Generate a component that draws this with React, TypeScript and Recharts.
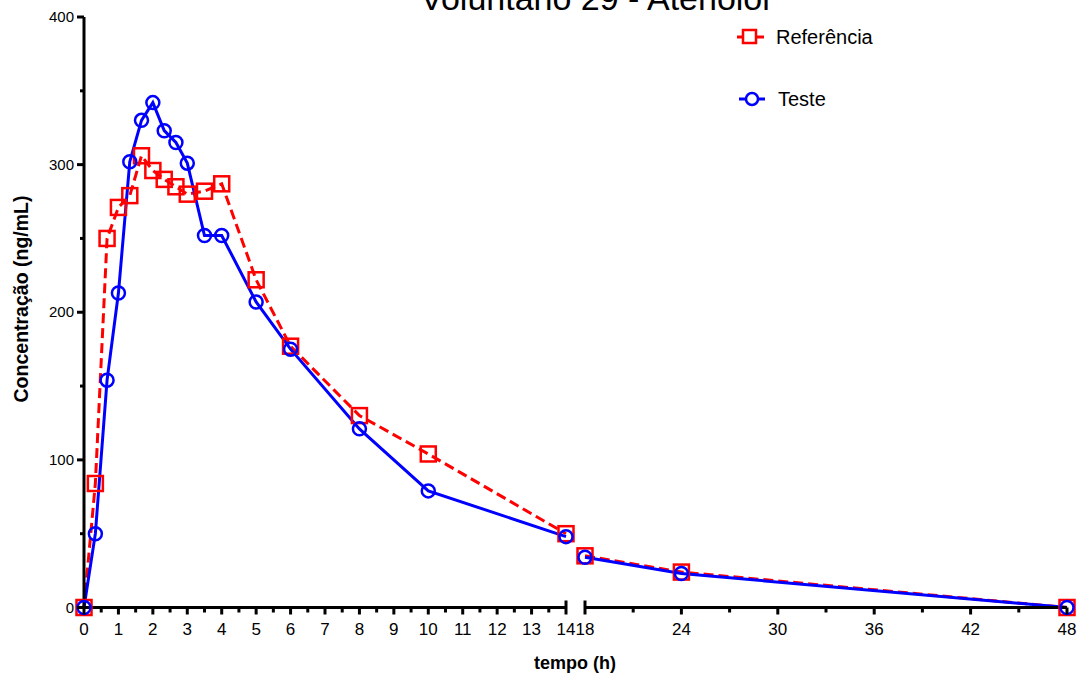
import React from "react";
import { LineChart, Line, XAxis, YAxis, Legend } from "recharts";

// sampling times (h) and concentrations (ng/mL)
const times = [0, 0.33, 0.67, 1, 1.33, 1.67, 2, 2.33, 2.67, 3, 3.5, 4, 5, 6, 8, 10, 14, 18, 24, 48];
const referencia = [0, 84, 250, 271, 279, 306, 296, 290, 285, 280, 282, 287, 222, 177, 130, 104, 50, 35, 24, 0];
const teste = [0, 50, 154, 213, 302, 330, 342, 323, 315, 301, 252, 252, 207, 175, 121, 79, 48, 34, 23, 0];

const leftTicks = [0, 0.5, 1, 1.5, 2, 2.5, 3, 3.5, 4, 4.5, 5, 5.5, 6, 6.5, 7, 7.5, 8, 8.5, 9, 9.5, 10, 10.5, 11, 11.5, 12, 12.5, 13, 13.5, 14];
const rightTicks = [18, 21, 24, 27, 30, 33, 36, 39, 42, 45, 48];
const rightLabels = [18, 24, 30, 36, 42, 48];
const yTicks = [0, 50, 100, 150, 200, 250, 300, 350, 400];
const yLabels = [0, 100, 200, 300, 400];

const RED = "#ff0000";
const BLUE = "#0000ff";
const FONT = "'Liberation Sans', Arial, sans-serif";

const rows = times.map((t, i) => ({ t, ref: referencia[i], test: teste[i] }));
const leftData = rows.filter((d) => d.t <= 14);
const rightData = rows.filter((d) => d.t >= 18);

const XTick = (p: any) => {
  const { x, y, payload, labelled, cap } = p;
  const v = payload.value;
  const major = labelled(v);
  return (
    <g>
      <line x1={x} x2={x} y1={cap === v ? y - 7 : y} y2={y + (major || cap === v ? 7 : 5)} stroke="#000" strokeWidth={3} />
      {major && (
        <text x={x} y={y + 27} textAnchor="middle" fontSize={17} fontFamily={FONT} fill="#000">
          {v}
        </text>
      )}
    </g>
  );
};

const YTick = (p: any) => {
  const { x, y, payload } = p;
  const major = yLabels.includes(payload.value);
  return (
    <g>
      <line x1={x} x2={x - (major ? 7 : 4)} y1={y} y2={y} stroke="#000" strokeWidth={3} />
      {major && (
        <text x={x - 10} y={y + 5} textAnchor="end" fontSize={15} fontFamily={FONT} fill="#000">
          {payload.value}
        </text>
      )}
    </g>
  );
};

const squareDot = (p: any) => (
  <rect key={`sq-${p.index}`} x={p.cx - 7.5} y={p.cy - 7.5} width={15} height={15} fill="none" stroke={RED} strokeWidth={2.5} />
);
const circleDot = (p: any) => (
  <circle key={`ci-${p.index}`} cx={p.cx} cy={p.cy} r={6.5} fill="none" stroke={BLUE} strokeWidth={2.5} />
);

const LegendBox = (props: any) => {
  const items = props.payload || [];
  return (
    <svg width={180} height={100}>
      {items.map((it: any, i: number) => {
        const y = i === 0 ? 17 : 79;
        const isRef = it.dataKey === "ref";
        return (
          <g key={it.value}>
            <line x1={isRef ? 7 : 9} x2={isRef ? 34 : 35} y1={y} y2={y} stroke={it.color} strokeWidth={3} />
            {isRef ? (
              <rect x={13} y={y - 7} width={13} height={13} fill="#fff" stroke={it.color} strokeWidth={2.5} />
            ) : (
              <circle cx={22} cy={y} r={6} fill="#fff" stroke={it.color} strokeWidth={2.5} />
            )}
            <text x={isRef ? 46 : 48} y={y + 7} fontSize={20} fontFamily={FONT} fill="#000">
              {it.value}
            </text>
          </g>
        );
      })}
    </svg>
  );
};

const series = (
  [
    <Line key="ref" dataKey="ref" name="Referência" stroke={RED} strokeWidth={3} strokeDasharray="10 5" dot={squareDot} activeDot={false} isAnimationActive={false} />,
    <Line key="test" dataKey="test" name="Teste" stroke={BLUE} strokeWidth={3} dot={circleDot} activeDot={false} isAnimationActive={false} />,
  ]
);

export default function App() {
  return (
    <div style={{ position: "absolute", left: 0, top: 0, width: 1083, height: 677, overflow: "hidden", background: "#fff" }}>
      <div style={{ position: "absolute", left: 0, top: 0 }}>
        <LineChart width={600} height={677} data={leftData} margin={{ top: 17, right: 34, bottom: 39.5, left: 0 }}>
          <XAxis
            dataKey="t"
            type="number"
            domain={[0, 14]}
            ticks={leftTicks}
            interval={0}
            height={30}
            tickSize={0}
            tickMargin={0}
            axisLine={{ stroke: "#000", strokeWidth: 3 }}
            tickLine={false}
            tick={(p: any) => <XTick {...p} labelled={(v: number) => Number.isInteger(v)} cap={14} />}
          />
          <YAxis
            type="number"
            domain={[0, 400]}
            ticks={yTicks}
            interval={0}
            width={84}
            tickSize={0}
            tickMargin={0}
            axisLine={{ stroke: "#000", strokeWidth: 3 }}
            tickLine={false}
            tick={(p: any) => <YTick {...p} />}
          />
          {series}
        </LineChart>
      </div>
      <div style={{ position: "absolute", left: 540, top: 0 }}>
        <LineChart width={543} height={677} data={rightData} margin={{ top: 17, right: 16, bottom: 39.5, left: 45 }}>
          <XAxis
            dataKey="t"
            type="number"
            domain={[18, 48]}
            ticks={rightTicks}
            interval={0}
            height={30}
            tickSize={0}
            tickMargin={0}
            axisLine={{ stroke: "#000", strokeWidth: 3 }}
            tickLine={false}
            tick={(p: any) => <XTick {...p} labelled={(v: number) => rightLabels.includes(v)} cap={18} />}
          />
          <YAxis type="number" domain={[0, 400]} hide />
          {series}
          <Legend
            layout="horizontal"
            verticalAlign="middle"
            align="center"
            content={(p: any) => <LegendBox {...p} />}
            wrapperStyle={{ position: "absolute", left: 190, top: 20, width: 180, height: 100 }}
          />
        </LineChart>
      </div>
      <svg width={1083} height={677} style={{ position: "absolute", left: 0, top: 0, pointerEvents: "none" }}>
        <text x={595} y={10} textAnchor="middle" fontSize={34} fontFamily={FONT} fill="#000">
          Voluntário 29 - Atenolol
        </text>
        <text x={575} y={669} textAnchor="middle" fontSize={18} fontWeight="bold" fontFamily={FONT} fill="#000">
          tempo (h)
        </text>
        <text transform="translate(28, 299) rotate(-90)" textAnchor="middle" fontSize={19.5} fontWeight="bold" fontFamily={FONT} fill="#000">
          Concentração (ng/mL)
        </text>
      </svg>
    </div>
  );
}
